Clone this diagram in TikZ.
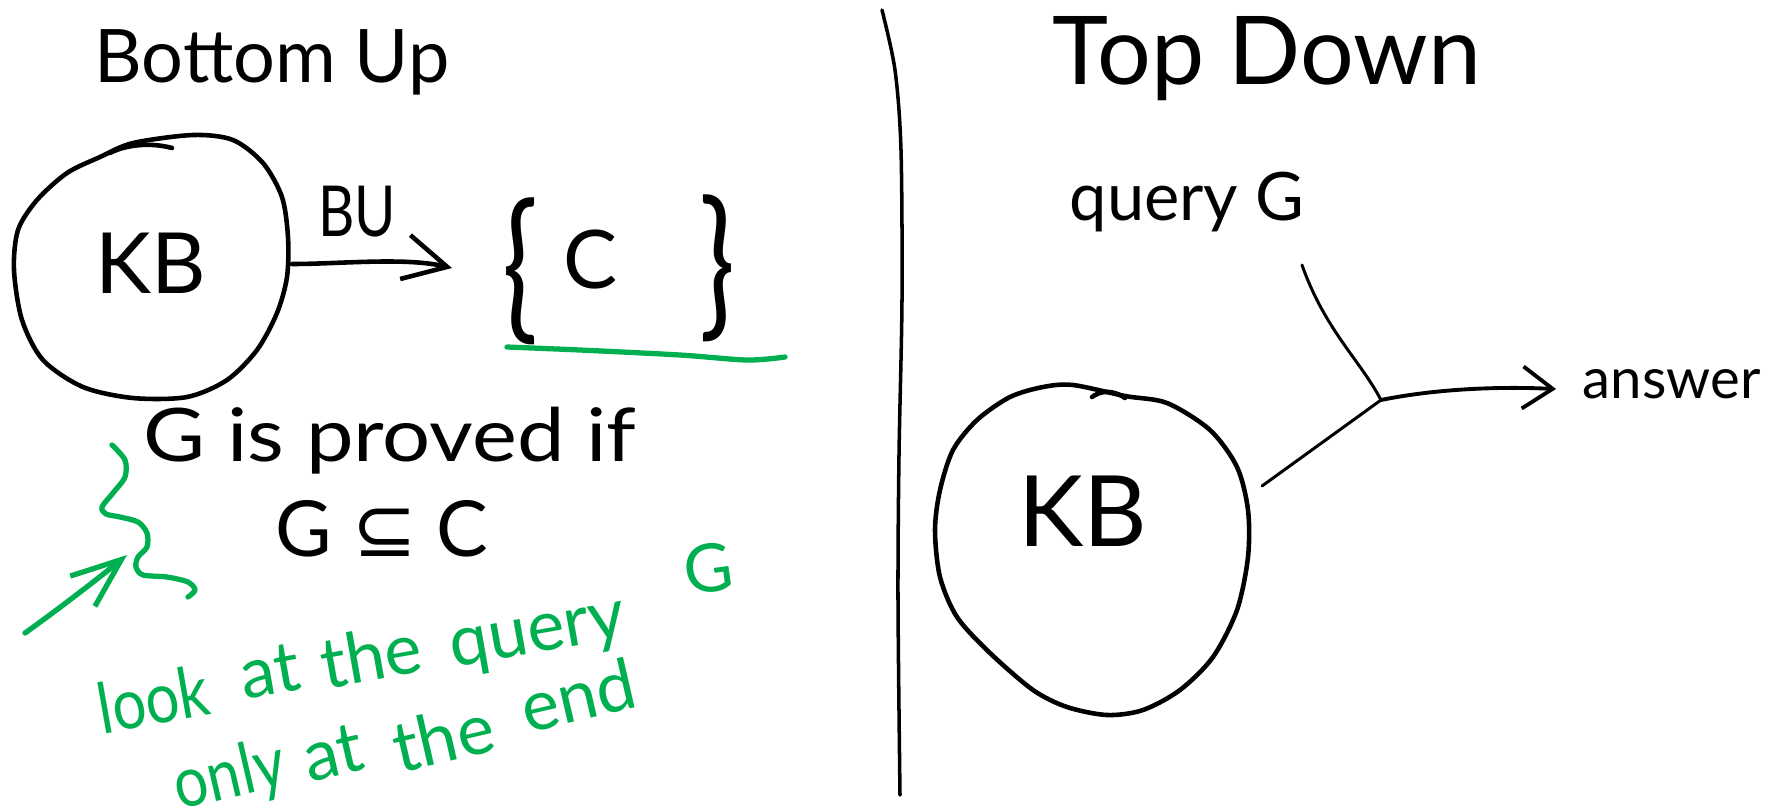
\documentclass[tikz,border=0pt]{standalone}
\usepackage{fontspec}
\usepackage{graphicx}
\setmainfont{Lato}
\newfontfamily\symfnt{DejaVu Sans}
\usetikzlibrary{arrows.meta}
\definecolor{inkgreen}{RGB}{0,176,80}
\tikzset{
  ink/.style={draw=black, line width=1.3pt, line cap=round, line join=round},
  thinink/.style={draw=black, line width=0.85pt, line cap=round, line join=round},
  greenink/.style={draw=inkgreen, line width=1.5pt, line cap=round, line join=round},
  lbl/.style={inner sep=0pt, text=black},
  greentxt/.style={inner sep=0pt, text=inkgreen, font=\fontsize{20}{20}\selectfont},
}
\newcommand{\fs}[1]{\fontsize{#1}{#1}\selectfont}
\newcommand{\stretchto}[1]{\addfontfeatures{FakeStretch=#1}}
\begin{document}
\begin{tikzpicture}[x=0.01cm,y=-0.01cm]
\useasboundingbox (0,0) rectangle (1781,805);

% ---------- titles ----------
\node[lbl, anchor=base] (tbu) at (272,82) {\fs{21}Bottom Up};
\node[lbl, anchor=base] (ttd) at (1267,84) {\fs{27}Top Down};

% ---------- divider ----------
\draw[ink, line width=1pt] plot[smooth] coordinates {(882,10) (895,70) (901,150) (902,300) (899,455) (898,600) (900,795)};

% ---------- left: KB circle ----------
\draw[ink] plot[smooth cycle] coordinates {(133,143) (193,135) (233,140) (263,163) (282,197) (288,237) (287,277) (277,313) (257,350) (227,380) (187,397) (133,398) (83,387) (43,360) (22,320) (14,270) (18,230) (37,200) (67,173) (100,157)};
\draw[ink] (110,153) .. controls (125,145) and (150,142) .. (172,148);
\node[lbl, anchor=base] (kbl) at (151,293) {\fs{24}KB};
\coordinate (kblr) at (292,264);

% arrow BU
\node[lbl, anchor=base] (bu) at (357,236) {\fs{20}\stretchto{0.8}BU};
\coordinate (setl) at (452,268);
\draw[ink, -{Straight Barb[length=4.3mm,width=4.5mm,line width=1.3pt]}] (kblr) .. controls (340,264) and (405,257) .. (setl);

% { C }
\node[lbl] (lb) at (520,271) {\scalebox{1}[1.35]{\fs{34}\{}};
\node[lbl, anchor=base] (cc) at (591,288) {\fs{23}C};
\node[lbl] (rb) at (717,268) {\scalebox{1}[1.35]{\fs{34}\}}};
\draw[greenink] plot[smooth] coordinates {(507,347) (580,350) (680,355) (747,360) (785,357)};

% G is proved if / G subseteq C
\node[lbl, anchor=base] (gpi) at (390,461) {\fs{21}\stretchto{1.15}G is proved if};
\node[lbl, anchor=base] (gsc) at (382,556) {\fs{22}G {\symfnt ⊆} C};

% green squiggle and arrow
\draw[greenink] plot[smooth] coordinates {(112,445) (125,460) (125,477) (113,493) (102,507) (106,514) (120,517) (138,522) (147,533) (147,547) (138,557) (136,567) (143,575) (167,577) (188,582) (195,590) (188,597)};
\coordinate (ga) at (25,633);
\coordinate (gb) at (127,555);
\draw[greenink, -{Straight Barb[length=5mm,width=3.9mm,line width=1.5pt]}] (ga) .. controls (60,608) and (100,577) .. (gb);

% green notes, word by word as written
\node[greentxt, rotate=10] (w1) at (153,699) {\stretchto{0.85}look};
\node[greentxt, rotate=10] (w2) at (270,671) {at};
\node[greentxt, rotate=10] (w3) at (371,655) {the};
\node[greentxt, rotate=10] (w4) at (539,640) {query};
\node[greentxt, rotate=8, font=\fs{19}] (w5) at (708,568) {G};
\node[greentxt, rotate=13] (w6) at (230,778) {\stretchto{0.85}only};
\node[greentxt, rotate=13] (w7) at (333,753) {at};
\node[greentxt, rotate=13] (w8) at (443,737) {the};
\node[greentxt, rotate=13] (w9) at (578,695) {end};

% ---------- right ----------
\node[lbl, anchor=base] (qg) at (1187,220) {\fs{19}query G};
\coordinate (qs) at (1302,265);
\coordinate (j) at (1381,400);
\coordinate (kbrr) at (1262,486);
\coordinate (ae) at (1556,389);
\node[lbl, anchor=base west] (ans) at (1582,398) {\fs{16}answer};

\draw[thinink] (qs) .. controls (1325,330) and (1360,360) .. (j);
\draw[thinink] (j) -- (kbrr);
\draw[ink, line width=1.1pt, -{Straight Barb[length=3mm,width=4.2mm,line width=1.1pt]}] (j) .. controls (1430,390) and (1490,386) .. (ae);

\draw[ink] plot[smooth cycle] coordinates {(1073,385) (1125,396) (1167,403) (1210,430) (1237,467) (1248,510) (1248,557) (1237,610) (1213,657) (1180,690) (1143,710) (1107,715) (1067,707) (1033,690) (990,653) (957,617) (940,577) (935,530) (940,490) (953,450) (977,420) (1010,397) (1043,387)};
\draw[ink] (1092,397) .. controls (1100,391) and (1112,389) .. (1125,398);
\node[lbl, anchor=base] (kbr) at (1083,546) {\fs{28}KB};

\end{tikzpicture}
\end{document}
